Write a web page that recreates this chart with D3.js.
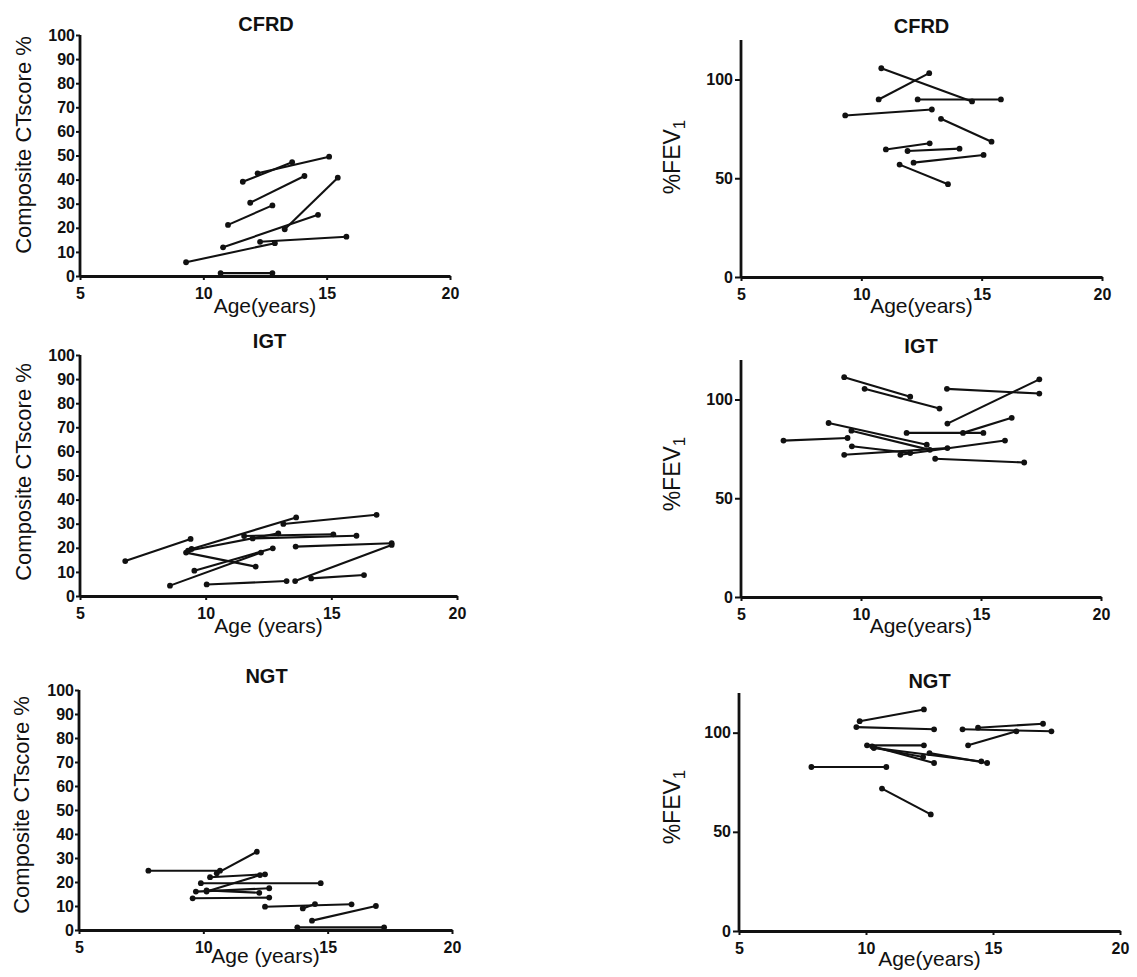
<!DOCTYPE html>
<html><head><meta charset="utf-8">
<script src="https://cdn.jsdelivr.net/npm/d3@7"></script>
<style>
body{margin:0;background:#fff}
text{font-family:Arial,"Liberation Sans",Helvetica,sans-serif;fill:#111}
</style>
</head><body>
<svg id="c" width="1137" height="977"></svg>
<script>
// ---- data: each segment = [age at visit 1, value 1, age at visit 2, value 2]
const xTicks = [5, 10, 15, 20];
const ctTicks = [0, 10, 20, 30, 40, 50, 60, 70, 80, 90, 100];
const fevTicks = [0, 50, 100];
const groupTitles = ["CFRD", "IGT", "NGT"];

const cfrdCT = [
  [11.6, 39.1, 13.6, 47.2],
  [12.2, 42.6, 15.1, 49.5],
  [11.9, 30.4, 14.1, 41.5],
  [11.0, 21.2, 12.8, 29.3],
  [10.8, 11.9, 14.65, 25.4],
  [13.3, 19.4, 15.45, 40.8],
  [12.3, 14.2, 15.8, 16.3],
  [9.3, 5.7, 12.9, 13.6],
  [10.7, 1.2, 12.8, 1.2]
];
const cfrdFEV = [
  [10.83, 105.7, 14.6, 88.9],
  [10.72, 89.9, 12.82, 103.2],
  [12.34, 89.9, 15.8, 89.9],
  [9.33, 81.8, 12.93, 84.8],
  [13.31, 80.1, 15.41, 68.5],
  [11.02, 64.6, 12.84, 67.7],
  [11.92, 63.8, 14.08, 65.0],
  [12.17, 57.9, 15.08, 61.8],
  [11.59, 56.9, 13.6, 47.0]
];
const igtCT = [
  [6.8, 14.5, 9.4, 23.7],
  [9.22, 18.0, 11.99, 12.2],
  [9.44, 19.5, 13.6, 32.6],
  [9.3, 18.8, 12.89, 26.0],
  [11.53, 24.9, 15.08, 25.6],
  [11.87, 23.9, 16.0, 25.0],
  [13.09, 29.9, 16.8, 33.7],
  [9.55, 10.5, 12.67, 19.8],
  [8.58, 4.3, 12.2, 18.0],
  [10.04, 4.8, 13.22, 6.2],
  [13.56, 6.2, 17.4, 21.2],
  [14.2, 7.3, 16.3, 8.7],
  [13.58, 20.5, 17.4, 21.9]
];
const igtFEV = [
  [9.3, 111.3, 12.05, 101.4],
  [10.15, 105.4, 13.27, 95.4],
  [13.58, 105.4, 17.43, 103.0],
  [13.6, 87.8, 17.43, 110.2],
  [8.65, 88.1, 12.74, 77.1],
  [9.6, 84.2, 12.87, 74.5],
  [11.9, 83.1, 15.1, 83.1],
  [14.25, 83.1, 16.28, 90.7],
  [6.77, 79.2, 9.44, 80.5],
  [9.62, 76.3, 12.05, 72.9],
  [9.3, 72.0, 13.6, 75.4],
  [11.64, 72.0, 16.0, 79.2],
  [13.09, 70.0, 16.8, 68.1]
];
const ngtCT = [
  [7.79, 24.7, 10.67, 24.7],
  [10.54, 23.6, 12.15, 32.6],
  [10.27, 22.0, 12.48, 23.2],
  [9.9, 19.5, 14.72, 19.5],
  [10.13, 16.0, 12.28, 22.9],
  [9.7, 16.0, 12.65, 17.4],
  [10.13, 16.5, 12.25, 15.5],
  [9.57, 13.2, 12.65, 13.5],
  [12.48, 9.7, 15.96, 10.7],
  [14.0, 9.0, 14.49, 10.8],
  [14.37, 3.9, 16.94, 10.0],
  [13.78, 1.1, 17.27, 1.1]
];
const ngtFEV = [
  [9.75, 105.8, 12.28, 111.7],
  [9.62, 102.8, 12.68, 101.7],
  [13.8, 101.7, 17.3, 100.7],
  [14.41, 102.5, 16.97, 104.5],
  [14.02, 93.6, 15.92, 100.7],
  [10.04, 93.6, 12.28, 93.6],
  [10.24, 93.1, 12.68, 84.7],
  [10.31, 92.4, 12.25, 87.7],
  [12.5, 89.7, 14.77, 84.7],
  [10.31, 92.4, 14.54, 85.5],
  [7.85, 82.7, 10.8, 82.7],
  [10.63, 71.8, 12.55, 58.8]
];

// ---- layout
const panels = [
  {data: cfrdCT, title: groupTitles[0], type: "ct", x0: 80, x1: 450, yb: 276, yt: 35, titleY: 31, xlab: "Age(years)", xlabY: 313, ylabX: 31, ylabY: 145},
  {data: cfrdFEV, title: groupTitles[0], type: "fev", x0: 741, x1: 1102, yb: 277, yt: 40, titleY: 33, xlab: "Age(years)", xlabY: 313, ylabX: 680, ylabY: 157},
  {data: igtCT, title: groupTitles[1], type: "ct", x0: 80, x1: 457, yb: 596, yt: 355, titleY: 348, xlab: "Age (years)", xlabY: 633, ylabX: 31, ylabY: 472},
  {data: igtFEV, title: groupTitles[1], type: "fev", x0: 741, x1: 1101, yb: 597, yt: 360, titleY: 353, xlab: "Age(years)", xlabY: 633, ylabX: 680, ylabY: 474},
  {data: ngtCT, title: groupTitles[2], type: "ct", x0: 79, x1: 452, yb: 930, yt: 690, titleY: 683, xlab: "Age (years)", xlabY: 963, ylabX: 29, ylabY: 805},
  {data: ngtFEV, title: groupTitles[2], type: "fev", x0: 739, x1: 1120, yb: 931, yt: 693, titleY: 688, xlab: "Age(years)", xlabY: 966, ylabX: 680, ylabY: 807}
];

const svg = d3.select("#c");
svg.append("rect").attr("width", 1137).attr("height", 977).attr("fill", "#fff");

panels.forEach(p => {
  const g = svg.append("g");
  const x = d3.scaleLinear().domain([5, 20]).range([p.x0, p.x1]);
  const ymax = p.type === "ct" ? 100 : 120;
  const y = d3.scaleLinear().domain([0, ymax]).range([p.yb, p.yt]);

  // data segments
  const seg = g.append("g");
  seg.selectAll("line").data(p.data).join("line")
    .attr("x1", d => x(d[0])).attr("y1", d => y(d[1]))
    .attr("x2", d => x(d[2])).attr("y2", d => y(d[3]))
    .attr("stroke", "#111").attr("stroke-width", 2.1);
  const pts = p.data.flatMap(d => [[d[0], d[1]], [d[2], d[3]]]);
  seg.selectAll("circle").data(pts).join("circle")
    .attr("cx", d => x(d[0])).attr("cy", d => y(d[1]))
    .attr("r", 2.9).attr("fill", "#111");

  // axes
  const ax = g.append("g").attr("transform", `translate(0,${p.yb})`)
    .call(d3.axisBottom(x).tickValues(xTicks).tickSize(4).tickPadding(8).tickSizeOuter(0));
  const yAxis = d3.axisLeft(y).tickValues(p.type === "ct" ? ctTicks : fevTicks).tickSizeOuter(0);
  if (p.type === "ct") yAxis.tickSize(4).tickPadding(1); else yAxis.tickSize(6).tickPadding(2);
  const ay = g.append("g").attr("transform", `translate(${p.x0},0)`).call(yAxis);
  [ax, ay].forEach(a => {
    a.select(".domain").attr("stroke", "#111").attr("stroke-width", 2.8);
    a.selectAll(".tick line").attr("stroke", "#111").attr("stroke-width", 2);
    a.selectAll(".tick text").attr("font-family", "Arial, 'Liberation Sans', sans-serif")
      .attr("font-weight", "bold").attr("font-size", 16).attr("fill", "#111");
  });
  // y domain: full line from yb to yt
  ay.select(".domain").attr("d", `M0,${p.yb}V${p.yt}`);

  // title
  g.append("text").attr("x", (p.x0 + p.x1) / 2 + (p.type === "ct" ? 1 : -0)).attr("y", p.titleY)
    .attr("text-anchor", "middle").attr("font-weight", "bold").attr("font-size", 20)
    .text(p.title);
  // x label
  g.append("text").attr("x", (p.x0 + p.x1) / 2).attr("y", p.xlabY)
    .attr("text-anchor", "middle").attr("font-size", 21).text(p.xlab);
  // y label
  const yl = g.append("text").attr("transform", `translate(${p.ylabX},${p.ylabY}) rotate(-90)`)
    .attr("text-anchor", "middle").attr("font-size", p.type === "ct" ? 22 : 23);
  if (p.type === "ct") {
    yl.text("Composite CTscore %");
  } else {
    yl.append("tspan").text("%FEV");
    yl.append("tspan").attr("dy", "0.3em").attr("font-size", 17).text("1");
  }
});
</script>
</body></html>
